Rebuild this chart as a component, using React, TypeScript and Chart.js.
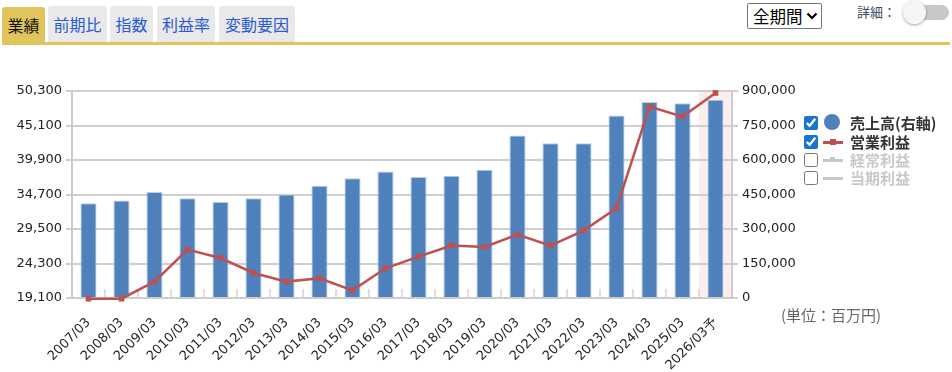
import React, { useEffect, useRef } from "react";
import { Chart, registerables } from "chart.js";

Chart.register(...registerables);

const categories = [
  "2007/03", "2008/03", "2009/03", "2010/03", "2011/03", "2012/03", "2013/03",
  "2014/03", "2015/03", "2016/03", "2017/03", "2018/03", "2019/03", "2020/03",
  "2021/03", "2022/03", "2023/03", "2024/03", "2025/03", "2026/03予",
];

// 売上高 (right axis)
const salesValues = [
  412000, 423500, 461000, 433500, 417500, 433500, 449500, 488500, 520500, 549500,
  526000, 532000, 558000, 706000, 672500, 672500, 793000, 852000, 846500, 862500,
];

// 営業利益 (left axis)
const opProfitValues = [
  19000, 19000, 21570, 26400, 25130, 22870, 21570, 22070, 20260, 23580,
  25340, 27000, 26790, 28660, 27000, 29260, 32620, 47950, 46440, 50000,
];

const leftTicks = [19100, 24300, 29500, 34700, 39900, 45100, 50300];
const rightTicks = [0, 150000, 300000, 450000, 600000, 750000, 900000];

const tabs = ["業績", "前期比", "指数", "利益率", "変動要因"];
const forecastIndex = categories.length - 1;

const fmt = (v: number) => Number(v).toLocaleString("en-US");

const decorPlugin = {
  id: "decor",
  beforeDraw(chart: any) {
    const { ctx, chartArea, scales } = chart;
    const x = scales.x;
    const half = (x.getPixelForValue(1) - x.getPixelForValue(0)) / 2;
    const c = x.getPixelForValue(forecastIndex);
    ctx.save();
    ctx.fillStyle = "#fdeeee";
    ctx.fillRect(c - half, chartArea.top, half * 2, chartArea.bottom - chartArea.top);
    ctx.restore();
  },
  beforeDatasetsDraw(chart: any) {
    const { ctx, chartArea, scales } = chart;
    const x = scales.x;
    const half = (x.getPixelForValue(1) - x.getPixelForValue(0)) / 2;
    ctx.save();
    ctx.strokeStyle = "#d4d4d4";
    ctx.lineWidth = 1.5;
    for (let i = 1; i < categories.length; i++) {
      const bx = x.getPixelForValue(i) - half;
      ctx.beginPath();
      ctx.moveTo(bx, chartArea.bottom - 9);
      ctx.lineTo(bx, chartArea.bottom);
      ctx.stroke();
    }
    ctx.restore();
  },
};

function ChartCanvas() {
  const ref = useRef<HTMLCanvasElement>(null);
  useEffect(() => {
    if (!ref.current) return;
    const chart = new Chart(ref.current, {
      type: "bar",
      data: {
        labels: categories,
        datasets: [
          {
            type: "line",
            label: "営業利益",
            data: opProfitValues,
            yAxisID: "yL",
            borderColor: "#c0504d",
            backgroundColor: "#c0504d",
            borderWidth: 2.5,
            pointStyle: "rect",
            pointRadius: 4,
            pointBorderWidth: 0,
            tension: 0,
            clip: false,
            order: 0,
          } as any,
          {
            type: "bar",
            label: "売上高",
            data: salesValues,
            yAxisID: "yR",
            backgroundColor: "#4f81bd",
            borderColor: "#b9cde6",
            borderWidth: 1,
            categoryPercentage: 1,
            barPercentage: 0.49,
            order: 1,
          } as any,
        ],
      },
      options: {
        animation: false,
        responsive: false,
        maintainAspectRatio: false,
        layout: { padding: { top: 40, left: 0, right: 0, bottom: 0 } },
        plugins: { legend: { display: false }, tooltip: { enabled: false } },
        scales: {
          x: {
            offset: true,
            grid: { display: true, drawOnChartArea: false, drawTicks: false },
            border: { display: true, color: "#cccccc", width: 2 },
            ticks: {
              minRotation: 45,
              maxRotation: 45,
              autoSkip: false,
              padding: 17,
              color: "#222",
              font: { family: "DejaVu Sans", size: 13 },
            },
            afterFit(scale: any) {
              scale.height = 75;
            },
          },
          yL: {
            position: "left",
            min: leftTicks[0],
            max: leftTicks[leftTicks.length - 1],
            afterBuildTicks(scale: any) {
              scale.ticks = leftTicks.map((v) => ({ value: v }));
            },
            grid: { color: "#cfcfcf", lineWidth: 2, tickLength: 6, drawTicks: true },
            border: { display: true, color: "#cccccc", width: 2 },
            ticks: {
              padding: 4,
              color: "#222",
              font: { family: "DejaVu Sans", size: 13 },
              callback: (v: any) => fmt(v),
            },
            afterFit(scale: any) {
              scale.width = 72;
            },
          },
          yR: {
            position: "right",
            min: rightTicks[0],
            max: rightTicks[rightTicks.length - 1],
            afterBuildTicks(scale: any) {
              scale.ticks = rightTicks.map((v) => ({ value: v }));
            },
            grid: { drawOnChartArea: false, color: "#cfcfcf", lineWidth: 2, tickLength: 6 },
            border: { display: true, color: "#cccccc", width: 2 },
            ticks: {
              padding: 4,
              color: "#222",
              font: { family: "DejaVu Sans", size: 13 },
              callback: (v: any) => fmt(v),
            },
            afterFit(scale: any) {
              scale.width = 220;
            },
          },
        },
      } as any,
      plugins: [decorPlugin],
    });
    return () => chart.destroy();
  }, []);
  return (
    <canvas
      ref={ref}
      width={952}
      height={322}
      style={{ position: "absolute", left: 0, top: 51, width: 952, height: 322 }}
    />
  );
}

const jp = "'Noto Sans CJK JP', 'Noto Sans', sans-serif";

function LegendRow({ checked, marker, label, color, top }: any) {
  return (
    <div style={{ position: "absolute", left: 804, top, height: 18, display: "flex", alignItems: "center" }}>
      <input
        type="checkbox"
        readOnly
        checked={checked}
        style={{ margin: 0, width: 14, height: 14, accentColor: "#1b74d0" }}
      />
      <div style={{ width: 22, height: 18, marginLeft: 4, position: "relative" }}>{marker}</div>
      <span style={{ marginLeft: 6, fontFamily: jp, fontWeight: 700, fontSize: 15, color, lineHeight: "18px", whiteSpace: "nowrap" }}>
        {label}
      </span>
    </div>
  );
}

export default function App() {
  const lineMarker = (c: string, w: number) => (
    <>
      <div style={{ position: "absolute", left: 1, top: 8, width: 20, height: 2.5, background: c }} />
      <div style={{ position: "absolute", left: 8, top: 6, width: w, height: w, background: c }} />
    </>
  );
  return (
    <div style={{ position: "absolute", left: 0, top: 0, width: 952, height: 372, background: "#fff", overflow: "hidden" }}>
      {/* Tabs */}
      {tabs.map((t, i) => {
        const lefts = [2, 48, 110, 157, 219];
        const widths = [43, 59, 43, 58, 76];
        const active = i === 0;
        return (
          <div
            key={t}
            style={{
              position: "absolute",
              left: lefts[i],
              top: active ? 7 : 6,
              width: widths[i],
              height: 36,
              background: active ? "#e2c45c" : "#e9e9e9",
              borderRadius: "3px 3px 0 0",
              fontFamily: jp,
              fontSize: 16,
              color: active ? "#111" : "#2a5bd7",
              display: "flex",
              alignItems: "center",
              justifyContent: "center",
              lineHeight: "20px",
            }}
          >
            {t}
          </div>
        );
      })}
      <div style={{ position: "absolute", left: 2, top: 42, width: 948, height: 3, background: "#e2c45c" }} />

      {/* Period select */}
      <div
        style={{
          position: "absolute",
          left: 747,
          top: 3,
          width: 75,
          height: 26,
          border: "1px solid #767676",
          borderRadius: 2,
          fontFamily: jp,
          fontSize: 16.5,
          color: "#000",
          display: "flex",
          alignItems: "center",
          paddingLeft: 5,
          boxSizing: "border-box",
        }}
      >
        全期間
        <svg width="12" height="8" viewBox="0 0 12 8" style={{ marginLeft: 3 }}>
          <polyline points="1.5,1.5 6,6 10.5,1.5" fill="none" stroke="#000" strokeWidth="2.2" />
        </svg>
      </div>

      {/* Detail toggle */}
      <div style={{ position: "absolute", left: 857, top: 3, fontFamily: jp, fontSize: 13, color: "#3b4a66", lineHeight: "18px" }}>
        詳細：
      </div>
      <div style={{ position: "absolute", left: 910, top: 5, width: 39, height: 15, borderRadius: 8, background: "#c8c8c8" }} />
      <div
        style={{
          position: "absolute",
          left: 903,
          top: 1,
          width: 23,
          height: 23,
          borderRadius: "50%",
          background: "#f6f6f6",
          boxShadow: "0 1px 3px rgba(0,0,0,0.35)",
        }}
      />

      <ChartCanvas />

      {/* Legend */}
      <LegendRow
        top={114}
        checked
        color="#333"
        label="売上高(右軸)"
        marker={<div style={{ position: "absolute", left: 2, top: 0, width: 16, height: 16, borderRadius: "50%", background: "#4f81bd" }} />}
      />
      <LegendRow top={133} checked color="#333" label="営業利益" marker={lineMarker("#c0504d", 6)} />
      <LegendRow top={151} checked={false} color="#c8c8c8" label="経常利益" marker={lineMarker("#c8c8c8", 5)} />
      <LegendRow top={169} checked={false} color="#c8c8c8" label="当期利益" marker={lineMarker("#c8c8c8", 0)} />

      <div style={{ position: "absolute", left: 781, top: 305, fontFamily: jp, fontSize: 15, color: "#666", lineHeight: "20px", whiteSpace: "nowrap" }}>
        (単位：百万円)
      </div>
    </div>
  );
}
